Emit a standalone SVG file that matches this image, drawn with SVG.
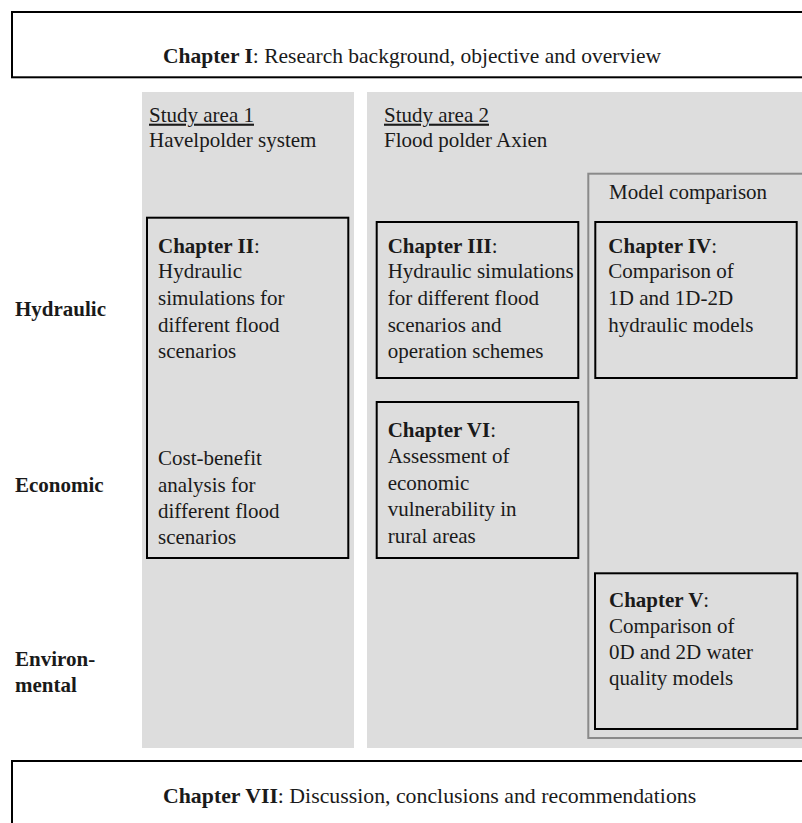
<svg xmlns="http://www.w3.org/2000/svg" width="802" height="823" viewBox="0 0 802 823">
<style>
text{font-family:"Liberation Serif","Times New Roman",serif;font-size:21px;fill:#1a1a1a}
.b{font-weight:bold}
.big{font-size:21.5px}
.panel{fill:#dddddd}
.box{fill:none;stroke:#000;stroke-width:2}
.wbox{fill:#fff;stroke:#000;stroke-width:2}
.mc{fill:none;stroke:#8a8a8a;stroke-width:2}
.u{text-decoration:underline}
</style>
<rect width="802" height="823" fill="#fff"/>
<g id="chapter1">
<rect class="wbox" x="12" y="12" width="800" height="65.3"/>
<text x="163" y="63" class="big"><tspan class="b">Chapter I</tspan>: Research background, objective and overview</text>
</g>
<g id="study-area-1">
<rect class="panel" x="142" y="92" width="212" height="656"/>
<text x="149" y="121.7" class="u">Study area 1</text>
<text x="149" y="146.7">Havelpolder system</text>
</g>
<g id="study-area-2">
<rect class="panel" x="367" y="92" width="440" height="656"/>
<text x="384" y="121.7" class="u">Study area 2</text>
<text x="384" y="146.7">Flood polder Axien</text>
</g>
<g id="model-comparison">
<rect class="mc" x="588.3" y="173.7" width="230" height="564.3"/>
<text x="609" y="199.3">Model comparison</text>
</g>
<g id="row-labels">
<text x="15" y="316" class="b">Hydraulic</text>
<text x="15" y="492" class="b">Economic</text>
<text x="15" y="666" class="b">Environ-</text>
<text x="15" y="691.7" class="b">mental</text>
</g>
<g id="chapter2">
<rect class="box" x="147" y="217.7" width="201.3" height="340.3"/>
<text x="158"><tspan x="158" y="252.7"><tspan class="b">Chapter II</tspan>:</tspan><tspan x="158" y="278.3">Hydraulic</tspan><tspan x="158" y="305">simulations for</tspan><tspan x="158" y="331.7">different flood</tspan><tspan x="158" y="358.3">scenarios</tspan></text>
<text x="158"><tspan x="158" y="465">Cost-benefit</tspan><tspan x="158" y="491.7">analysis for</tspan><tspan x="158" y="518.3">different flood</tspan><tspan x="158" y="544.3">scenarios</tspan></text>
</g>
<g id="chapter3">
<rect class="box" x="376.7" y="222" width="201.6" height="156"/>
<text x="387.7"><tspan x="387.7" y="252.7"><tspan class="b">Chapter III</tspan>:</tspan><tspan x="387.7" y="278.3">Hydraulic simulations</tspan><tspan x="387.7" y="305">for different flood</tspan><tspan x="387.7" y="331.7">scenarios and</tspan><tspan x="387.7" y="358.3">operation schemes</tspan></text>
</g>
<g id="chapter4">
<rect class="box" x="595.3" y="222" width="201.4" height="156"/>
<text x="608.3"><tspan x="608.3" y="252.7"><tspan class="b">Chapter IV</tspan>:</tspan><tspan x="608.3" y="278.3">Comparison of</tspan><tspan x="608.3" y="305">1D and 1D-2D</tspan><tspan x="608.3" y="331.7">hydraulic models</tspan></text>
</g>
<g id="chapter6">
<rect class="box" x="376.7" y="402" width="201.6" height="156"/>
<text x="387.7"><tspan x="387.7" y="436.7"><tspan class="b">Chapter VI</tspan>:</tspan><tspan x="387.7" y="463.3">Assessment of</tspan><tspan x="387.7" y="490">economic</tspan><tspan x="387.7" y="516">vulnerability in</tspan><tspan x="387.7" y="542.7">rural areas</tspan></text>
</g>
<g id="chapter5">
<rect class="box" x="595" y="573.3" width="202.3" height="155.7"/>
<text x="609"><tspan x="609" y="606.7"><tspan class="b">Chapter V</tspan>:</tspan><tspan x="609" y="632.7">Comparison of</tspan><tspan x="609" y="659.3">0D and 2D water</tspan><tspan x="609" y="685">quality models</tspan></text>
</g>
<g id="chapter7">
<rect class="wbox" x="12" y="761" width="800" height="80"/>
<text x="163" y="802.7" class="big" style="font-size:21.8px"><tspan class="b">Chapter VII</tspan>: Discussion, conclusions and recommendations</text>
</g>
<g id="connectors"/>
</svg>
